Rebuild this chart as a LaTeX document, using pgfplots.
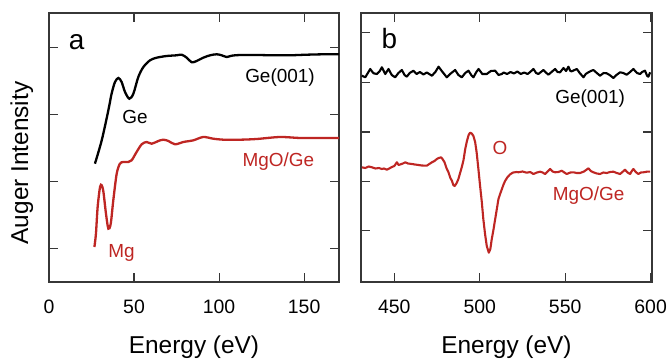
\documentclass[border=0pt]{standalone}
\usepackage{pgfplots}
\pgfplotsset{compat=1.18}
\usepackage{fontspec}
\setmainfont{Liberation Sans}
\definecolor{myred}{RGB}{190,38,35}
\definecolor{axgray}{RGB}{55,55,55}
\tikzset{lbl/.style={font=\fontsize{19}{20}\selectfont}}
\pgfplotsset{
  myaxis/.style={
    scale only axis,
    height=269bp,
    ymin=0, ymax=269,
    axis line style={axgray, line width=1.1bp},
    tick style={axgray, line width=1.1bp},
    tick align=inside,
    major tick length=9bp,
    yticklabels={},
    /pgf/number format/assume math mode=true,
    xticklabel style={font=\fontsize{19.5}{20}\selectfont, anchor=base, yshift=-31bp},
    xlabel style={font=\fontsize{24.5}{26}\selectfont, at={(axis description cs:0.5,0)}, anchor=base, yshift=-71bp},
    xlabel={Energy (eV)},
    clip=false,
  },
}
\begin{document}
\begin{tikzpicture}
\path[use as bounding box] (0,0) rectangle (671bp,360bp);
% Panel a
\begin{axis}[myaxis, at={(49bp,78bp)}, anchor=south west, width=290bp,
  xmin=0, xmax=170.5, xtick={0,50,100,150},
  ytick={33.7,100.7,167.7,234.3}]
\addplot[black, line width=2.3bp, smooth, tension=0.5] coordinates {
(27.0,118.3) (31.0,141.7) (34.9,171.7) (36.8,188.3) (38.8,200) (40.8,204)
(42.7,200) (44.7,190) (47.2,183.3) (49.6,188.3) (52.5,205) (55.5,215)
(59.4,221.7) (63.3,224.3) (69.2,226) (75.1,226.7) (78,227.3) (81,224.3)
(83.9,219.7) (86.8,221) (90.7,224.3) (94.7,226.7) (98.6,227.7) (101.5,226.7)
(104.5,225) (107.4,226.3) (112.3,227) (122.1,227) (131.9,226.7) (141.7,226.7)
(151.5,227.3) (161.3,227.7) (170.5,227.7)};
\addplot[myred, line width=2.3bp, smooth, tension=0.5] coordinates {
(26.7,35) (27.6,48.3) (28.6,75) (30,95) (31,96.7) (32,90) (33.5,68.3)
(34.9,53.3) (36.3,58.3) (37.8,81.7) (39.8,108.3) (41.7,118.3) (43.7,120)
(46.6,120) (48.6,121.7) (51.5,130) (54.5,137.7) (57.4,140) (60.4,138.3)
(64.3,141) (67.2,142.3) (70.2,141) (74.1,137.7) (79,140) (84.9,141.7)
(90.7,145) (96.6,143.3) (102.5,142.3) (112.3,142.3) (122.1,143) (135.8,145)
(147.6,144) (159.3,144) (170.5,144)};
\node[font=\fontsize{28}{30}\selectfont] at (axis cs:16.3,240) {a};
\node[lbl] at (axis cs:135.8,204.3) {Ge(001)};
\node[lbl] at (axis cs:50.6,165) {Ge};
\node[lbl, text=myred] at (axis cs:134.8,120) {MgO/Ge};
\node[lbl, text=myred] at (axis cs:42.7,29) {Mg};
\end{axis}
% Panel b
\begin{axis}[myaxis, at={(361bp,78bp)}, anchor=south west, width=291bp,
  xmin=430.5, xmax=600.8, xtick={450,500,550,600},
  ytick={51.3,100.7,150,199.3,249.3}]
\addplot[black, line width=2.1bp, line join=round] coordinates {
(431,206.3) (433,204.7) (435.9,213) (437.8,208.7) (439.8,208) (441.5,211)
(442.7,214.7) (444.7,208) (446.6,213) (448.5,207) (450.5,204.7) (452.4,209)
(454.4,212) (456,207) (457.3,205.3) (459,209) (461.2,211.3) (463,208)
(465,210) (467,207.5) (469,209.5) (472,206.3) (474,210) (475.9,215.3)
(478,210.5) (480.7,204.7) (483,208.5) (485.6,212) (487.5,207) (489.5,204.7)
(491.5,209) (493.4,211.3) (495,207) (496.3,204.7) (498,210) (499.3,213)
(501.5,208) (504.1,208) (506.5,211) (509,211.3) (511,207) (512.9,208)
(514,209.5) (516,208) (518,210) (520,208.5) (522,210.5) (524,208)
(526,209.5) (528,208) (529.5,210) (531.4,213) (533,209) (534.3,208)
(535.8,210) (537.3,212) (539,209) (540.2,207.3) (542,210) (544.1,213)
(545.5,210) (547,209.7) (549,214) (550.5,211) (551.9,215.3) (553,211)
(553.8,210.7) (555.5,212) (556.8,213) (558.5,209) (560.7,204.7) (562,208)
(563.6,209.7) (565,211) (566.5,212) (568.5,209) (570.4,206.3) (572.5,209)
(574.3,208.7) (576,207) (578.2,204) (580,207) (582.1,209.7) (584,209)
(586,207.3) (588,210) (589.9,213) (592,209) (593.8,208) (595,210)
(596.7,211.3) (598,206) (598.7,205.3) (599.7,209.7)};
\addplot[myred, line width=2.1bp, line join=round] coordinates {
(431,114.7) (433,114) (435,115.5) (436.9,114.7) (439,113.5) (441,114)
(442.7,113) (444,113.5) (445.6,112.3) (447,113.5) (448.6,115) (450,116)
(451.5,119.7) (452.5,117) (453.4,117.5) (455,118.5) (456.4,119.7) (458,118.5)
(460.3,118) (462,117.5) (464.2,117) (466,116.5) (469,116.3) (470.5,118)
(472,119.7) (473.5,121) (474.9,123) (476,124) (477.4,124.7) (478.4,122.5)
(479.4,119.7) (480.5,114) (481.7,109.7) (482.8,104) (483.7,101.3) (484.5,97)
(485.3,96) (486.5,99) (487.5,103) (488.5,109) (489.5,115) (490.5,122)
(491.5,133) (492.5,141) (493.5,147) (494.3,149.3) (495.3,148.5) (496.3,146)
(497.3,140) (498.2,129.3) (499.2,113) (500.2,96) (501.2,80) (502.1,62.7)
(503.1,48) (504.1,36) (505.3,29.3) (506.2,33) (507,42.7) (508,52)
(509,62.7) (510,73) (510.9,82.7) (511.9,88) (512.9,92.7) (513.8,97)
(514.8,101) (516.3,105) (517.8,107.7) (519.5,109.5) (521.7,110)
(522.6,109.7) (525,110.5) (527.5,109.3) (529.5,110) (531.4,108) (533.5,109.5)
(535.3,110.3) (536.8,109.5) (538.2,108) (539.7,110.5) (541.2,113) (542.6,110.5)
(544.1,109.7) (546,110) (548,111.3) (549.5,109.5) (550.9,108) (553,109.5)
(554.8,109.7) (556.8,109) (558.7,109) (561,110.5) (563.6,113.7) (565,111)
(566.5,109.7) (568.5,108.5) (570.4,108) (572.3,109.5) (574.3,109) (576.3,110)
(578.2,110.3) (580.2,109) (582.1,108) (583.5,110) (585,112.3) (586.5,109.5)
(588,108) (589,111) (589.9,113) (591.3,110) (592.8,108) (594.3,109.5)
(595.8,109.7) (597.8,110.3) (599.7,110.3)};
\node[font=\fontsize{28}{30}\selectfont] at (axis cs:447.1,243.3) {b};
\node[lbl] at (axis cs:564.6,183.3) {Ge(001)};
\node[lbl, text=myred] at (axis cs:511.9,134.3) {O};
\node[lbl, text=myred] at (axis cs:563.7,86.7) {MgO/Ge};
\end{axis}
\node[rotate=90, anchor=base, font=\fontsize{24.5}{26}\selectfont] at (28bp,197bp) {Auger Intensity};
\end{tikzpicture}
\end{document}
